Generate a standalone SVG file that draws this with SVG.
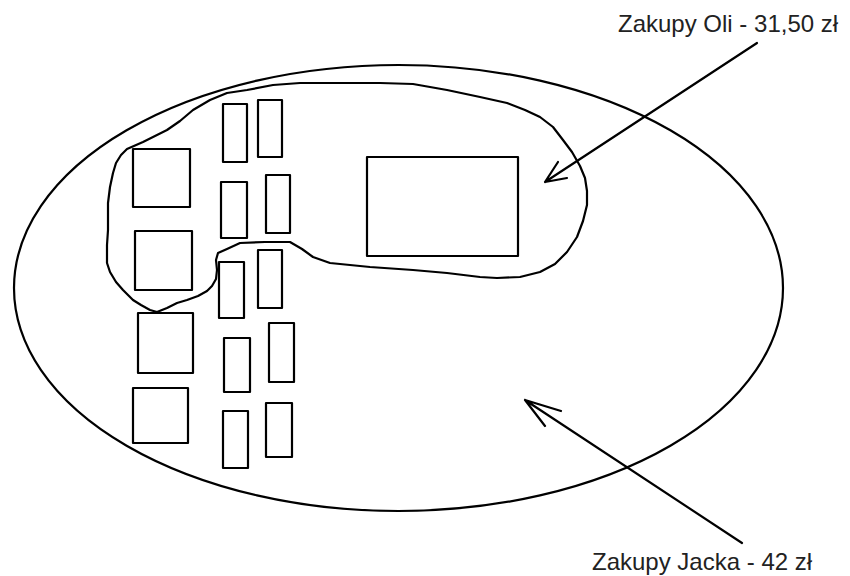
<svg xmlns="http://www.w3.org/2000/svg" width="850" height="576" viewBox="0 0 850 576">
<style>
.s{fill:none;stroke:#000;stroke-width:2.2;stroke-linejoin:round;stroke-linecap:round}
.t{font-family:"Liberation Sans",Arial,sans-serif;font-size:24px;fill:#222}
</style>
<rect width="850" height="576" fill="#fff"/>
<g id="zakupy-jacka">
<ellipse class="s" cx="398.5" cy="288" rx="384.5" ry="223"/>
</g>
<g id="zakupy-oli">
<path class="s" d="M127,149 L143,142 L155,136 L167,130 L180,121 L193,110 L210,100 L227,93 L247,90 L273,85 L300,83 L347,83 L380,83 L413,84 L447,90 L480,97 L507,103 L525,110 L540,117 L553,127 L563,140 L572,152 L580,166 L585,178 L587,191 L587,205 L583,221 L577,237 L567,252 L555,264 L540,272 L520,277 L497,278 L480,277 L447,273 L413,270 L370,267 L330,263 L313,257 L302,249 L290,242 L265,242 L240,243 L227,249 L218,253 L216,260 L217,270 L216,279 L212,286 L207,291 L198,296 L187,300 L177,303 L167,308 L157,312 L150,310 L141,305 L133,300 L123,290 L116,282 L110,272 L107,263 L107,245 L108,230 L108,203 L110,187 L113,173 L116,163 L121,155 Z"/>
</g>
<g id="items">
<rect class="s" x="133" y="149" width="57" height="58"/>
<rect class="s" x="135" y="231" width="57" height="59"/>
<rect class="s" x="138" y="313" width="55" height="60"/>
<rect class="s" x="133" y="388" width="55" height="55"/>
<rect class="s" x="223" y="104" width="24" height="58"/>
<rect class="s" x="258" y="100" width="24" height="57"/>
<rect class="s" x="221" y="182" width="26" height="56"/>
<rect class="s" x="266" y="175" width="24" height="58"/>
<rect class="s" x="219" y="262" width="25" height="56"/>
<rect class="s" x="258" y="250" width="24" height="58"/>
<rect class="s" x="224" y="338" width="26" height="54"/>
<rect class="s" x="269" y="323" width="25" height="59"/>
<rect class="s" x="223" y="411" width="25" height="57"/>
<rect class="s" x="266" y="403" width="26" height="54"/>
<rect class="s" x="367" y="157" width="151" height="99"/>
</g>
<g id="connectors">
<path class="s" d="M757,43 L545,182 M558,162 L545,182 L567,178"/>
<path class="s" d="M742,543 L525,400 M561,411 L525,400 L545,426"/>
</g>
<g id="labels">
<text class="t" x="618" y="32">Zakupy Oli - 31,50 zł</text>
<text class="t" x="592" y="570">Zakupy Jacka - 42 zł</text>
</g>
</svg>
